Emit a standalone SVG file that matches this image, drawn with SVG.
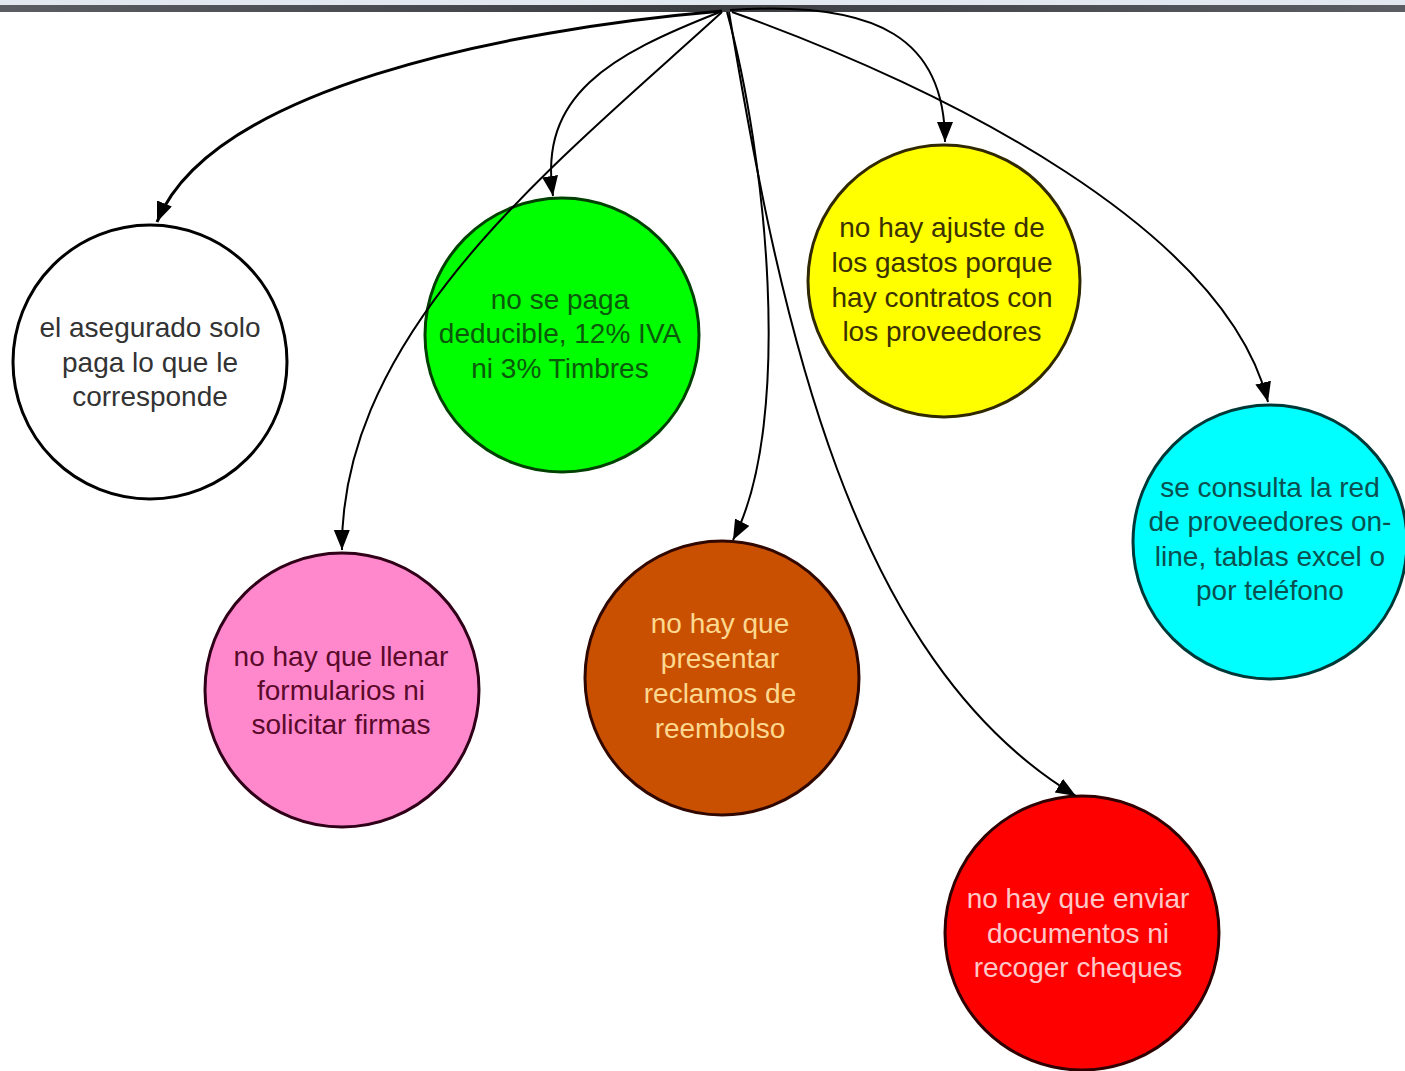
<svg xmlns="http://www.w3.org/2000/svg" width="1405" height="1071" viewBox="0 0 1405 1071">
<defs>
<marker id="arr" markerUnits="userSpaceOnUse" markerWidth="22" markerHeight="18" refX="20" refY="8" orient="auto"><path d="M0,0 L20,8 L0,16 Z" fill="#000"/></marker>
<linearGradient id="bar" x1="0" y1="0" x2="1" y2="0"><stop offset="0" stop-color="#5a5e64"/><stop offset="0.5" stop-color="#3a3c40"/><stop offset="1" stop-color="#5a5e64"/></linearGradient>
</defs>
<style>
.e{fill:none;stroke:#000;stroke-width:2;marker-end:url(#arr)}
.n{stroke-width:3}
.t{font-family:"Liberation Sans",Arial,sans-serif;font-size:28px;text-anchor:middle}
</style>
<rect x="0" y="0" width="1405" height="1071" fill="#fff"/>
<rect x="0" y="0" width="1405" height="5" fill="#e2e8f0"/>
<rect x="0" y="5" width="1405" height="7" fill="url(#bar)"/>
<g id="n1"><circle class="n" cx="150" cy="362" r="137" fill="#fff" stroke="#000"/>
<text class="t" fill="#333"><tspan x="150" y="337">el asegurado solo</tspan><tspan x="150" y="372">paga lo que le</tspan><tspan x="150" y="406">corresponde</tspan></text></g>
<g id="n2"><circle class="n" cx="562" cy="335" r="137" fill="#00ff00" stroke="#004000"/>
<text class="t" fill="#0b5a0b"><tspan x="560" y="309">no se paga</tspan><tspan x="560" y="343">deducible, 12% IVA</tspan><tspan x="560" y="378">ni 3% Timbres</tspan></text></g>
<g id="n3"><circle class="n" cx="944" cy="281" r="136" fill="#ffff00" stroke="#302800"/>
<text class="t" fill="#3a3000"><tspan x="942" y="237">no hay ajuste de</tspan><tspan x="942" y="272">los gastos porque</tspan><tspan x="942" y="307">hay contratos con</tspan><tspan x="942" y="341">los proveedores</tspan></text></g>
<g id="n4"><circle class="n" cx="1270" cy="542" r="137" fill="#00ffff" stroke="#003838"/>
<text class="t" fill="#0a5050"><tspan x="1270" y="497">se consulta la red</tspan><tspan x="1270" y="531">de proveedores on-</tspan><tspan x="1270" y="566">line, tablas excel o</tspan><tspan x="1270" y="600">por teléfono</tspan></text></g>
<g id="n5"><circle class="n" cx="342" cy="690" r="137" fill="#ff88cc" stroke="#300018"/>
<text class="t" fill="#5a0a2a"><tspan x="341" y="666">no hay que llenar</tspan><tspan x="341" y="700">formularios ni</tspan><tspan x="341" y="734">solicitar firmas</tspan></text></g>
<g id="n6"><circle class="n" cx="722" cy="678" r="137" fill="#c85000" stroke="#300800"/>
<text class="t" fill="#ffd890"><tspan x="720" y="633">no hay que</tspan><tspan x="720" y="668">presentar</tspan><tspan x="720" y="703">reclamos de</tspan><tspan x="720" y="738">reembolso</tspan></text></g>
<g id="n7"><circle class="n" cx="1082" cy="933" r="137" fill="#ff0000" stroke="#300000"/>
<text class="t" fill="#ffc8c8"><tspan x="1078" y="908">no hay que enviar</tspan><tspan x="1078" y="943">documentos ni</tspan><tspan x="1078" y="977">recoger cheques</tspan></text></g>
<g id="connectors">
<path class="e" style="stroke-width:3" d="M722 11 C500 30 210 90 157 222"/>
<path class="e" d="M720 12 C610 55 538 95 553 196"/>
<path class="e" d="M722 12 C560 160 340 330 342 550"/>
<path class="e" d="M727 12 C765 150 795 420 733 540"/>
<path class="e" d="M729 12 C780 320 850 660 1076 796"/>
<path class="e" d="M730 10 C880 0 945 40 945 142"/>
<path class="e" d="M732 12 C950 90 1225 230 1268 402"/>
</g>
</svg>
